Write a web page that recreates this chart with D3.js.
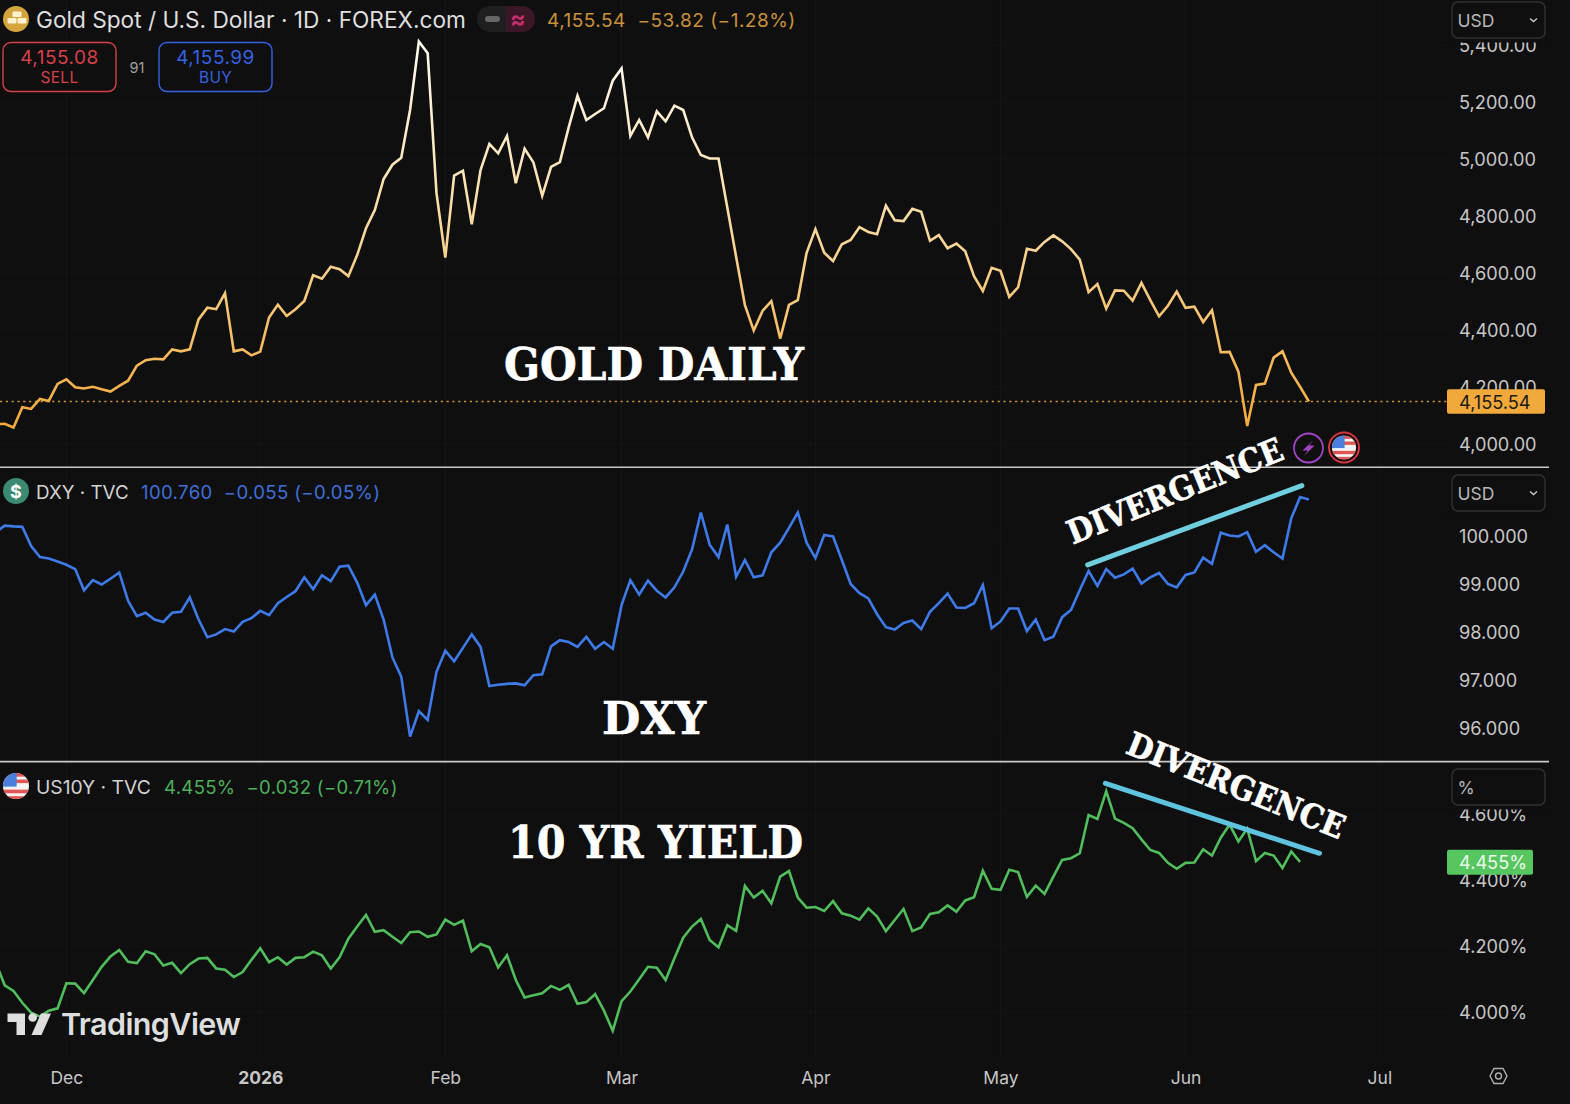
<!DOCTYPE html>
<html>
<head>
<meta charset="utf-8">
<title>Gold, DXY, US10Y</title>
<script src="https://cdn.jsdelivr.net/npm/d3@7"></script>
<style>
  html, body { margin: 0; padding: 0; background: #0f0f0f; }
  svg { display: block; font-family: Inter, "Noto Sans", sans-serif; }
  .big { font-family: "DejaVu Serif", serif; font-weight: 700; fill: #fff; stroke: #fff; stroke-width: 0.6px; }
  .axis path, .axis line { display: none; }
  .axis text { fill: #c6c6c6; font-family: Inter, sans-serif; font-size: 18.2px; }
  .axis.time text { font-size: 17.5px; }
</style>
</head>
<body>
<div id="chart"></div>
<script>
  // daily closes. first value sits one bar left of the frame
  var gold = [4069,
    4071, 4058, 4129, 4123, 4158, 4151, 4211, 4227, 4199, 4195,
    4201, 4192, 4184, 4204, 4222, 4275, 4294, 4299, 4297, 4332,
    4325, 4332, 4437, 4478, 4473, 4529, 4325, 4332, 4311, 4324,
    4444, 4489, 4449, 4473, 4502, 4592, 4580, 4622, 4613, 4589,
    4663, 4757, 4821, 4930, 4980, 5004, 5172, 5412, 5371, 4880,
    4654, 4942, 4959, 4771, 4961, 5053, 5020, 5081, 4915, 5036,
    4988, 4871, 4972, 4989, 5111, 5222, 5137, 5158, 5178, 5275,
    5318, 5081, 5137, 5076, 5167, 5132, 5187, 5172, 5076, 5014,
    5002, 5002, 4830, 4657, 4487, 4398, 4467, 4501, 4370, 4488,
    4505, 4671, 4754, 4671, 4642, 4701, 4716, 4761, 4744, 4736,
    4836, 4785, 4782, 4825, 4815, 4713, 4733, 4687, 4703, 4676,
    4589, 4537, 4618, 4608, 4516, 4550, 4685, 4678, 4709, 4732,
    4711, 4684, 4647, 4533, 4561, 4475, 4539, 4538, 4503, 4565,
    4505, 4448, 4485, 4535, 4478, 4482, 4428, 4469, 4322, 4323,
    4254, 4063, 4207, 4212, 4303, 4325, 4250, 4201, 4149];

  var dxy = [100.08,
    100.215, 100.20, 100.19, 99.79, 99.56, 99.53, 99.47, 99.40, 99.31, 98.87,
    99.08, 98.99, 99.11, 99.24, 98.65, 98.33, 98.40, 98.26, 98.21, 98.40,
    98.42, 98.72, 98.26, 97.89, 97.95, 98.06, 98.01, 98.21, 98.29, 98.44,
    98.35, 98.60, 98.73, 98.85, 99.14, 98.89, 99.18, 99.06, 99.36, 99.38,
    99.03, 98.56, 98.78, 98.26, 97.47, 97.07, 95.82, 96.35, 96.17, 97.17,
    97.61, 97.39, 97.67, 97.95, 97.69, 96.875, 96.90, 96.92, 96.93, 96.89,
    97.10, 97.12, 97.70, 97.83, 97.79, 97.69, 97.90, 97.65, 97.79, 97.65,
    98.56, 99.08, 98.78, 99.07, 98.86, 98.72, 98.93, 99.26, 99.72, 100.49,
    99.82, 99.56, 100.24, 99.15, 99.50, 99.14, 99.18, 99.66, 99.86, 100.17,
    100.49, 99.86, 99.54, 100.02, 99.99, 99.50, 99.00, 98.81, 98.70, 98.37,
    98.10, 98.05, 98.19, 98.24, 98.06, 98.42, 98.60, 98.80, 98.51, 98.50,
    98.60, 98.98, 98.08, 98.22, 98.49, 98.49, 98.02, 98.26, 97.83, 97.90,
    98.31, 98.46, 98.875, 99.27, 98.96, 99.31, 99.13, 99.20, 99.32, 99.01,
    99.14, 99.23, 99.00, 98.93, 99.19, 99.24, 99.55, 99.42, 100.07, 100.01,
    99.99, 100.08, 99.67, 99.81, 99.66, 99.53, 100.37, 100.81, 100.76];

  var us10y = [4.149,
    4.081, 4.064, 4.028, 3.998, 3.986, 4.004, 4.011, 4.087, 4.086, 4.057,
    4.097, 4.137, 4.168, 4.188, 4.152, 4.148, 4.184, 4.175, 4.141, 4.149,
    4.118, 4.145, 4.162, 4.164, 4.132, 4.128, 4.106, 4.121, 4.158, 4.193,
    4.151, 4.166, 4.144, 4.164, 4.166, 4.183, 4.172, 4.132, 4.166, 4.222,
    4.259, 4.294, 4.243, 4.248, 4.228, 4.209, 4.242, 4.244, 4.228, 4.235,
    4.280, 4.264, 4.277, 4.184, 4.206, 4.196, 4.135, 4.172, 4.097, 4.044,
    4.051, 4.057, 4.079, 4.067, 4.082, 4.025, 4.030, 4.054, 4.004, 3.943,
    4.033, 4.062, 4.099, 4.137, 4.134, 4.097, 4.163, 4.225, 4.259, 4.282,
    4.218, 4.196, 4.263, 4.246, 4.382, 4.347, 4.367, 4.329, 4.410, 4.427,
    4.347, 4.316, 4.318, 4.306, 4.336, 4.299, 4.292, 4.280, 4.314, 4.289,
    4.245, 4.279, 4.312, 4.245, 4.256, 4.297, 4.302, 4.323, 4.304, 4.338,
    4.348, 4.428, 4.373, 4.370, 4.431, 4.424, 4.349, 4.383, 4.358, 4.410,
    4.461, 4.466, 4.481, 4.597, 4.585, 4.669, 4.586, 4.573, 4.557, 4.523,
    4.491, 4.482, 4.452, 4.434, 4.452, 4.453, 4.493, 4.474, 4.528, 4.568,
    4.517, 4.556, 4.457, 4.482, 4.474, 4.436, 4.486, 4.455];

  // bar index of each month start
  var monthBars = [7, 29, 50, 70, 92, 113, 134, 156];
  var monthLabels = ["Dec", "2026", "Feb", "Mar", "Apr", "May", "Jun", "Jul"];

  var goldTicks = [4000, 4200, 4400, 4600, 4800, 5000, 5200, 5400];
  var dxyTicks = [96, 97, 98, 99, 100];
  var yieldTicks = [4.0, 4.2, 4.4, 4.6];

  // divergence trend lines: [bar, value] at both ends
  var dxyTrend = [[122.9, 99.40], [147.2, 101.05]];
  var yieldTrend = [[124.9, 4.693], [149.2, 4.481]];

  var width = 1570, height = 1104;

  var svg = d3.select("#chart").append("svg")
    .attr("width", width)
    .attr("height", height)
    .style("background", "#0f0f0f");

  var x = d3.scaleLinear().domain([0, 148]).range([4.7, 1308.9]);
  var yGold = d3.scaleLinear().domain([4000, 5200]).range([444, 102]);
  var yDxy = d3.scaleLinear().domain([96, 100]).range([728, 536]);
  var yYield = d3.scaleLinear().domain([4.0, 4.6]).range([1012, 814]);

  var defs = svg.append("defs");

  var grad = defs.append("linearGradient")
    .attr("id", "goldLine")
    .attr("gradientUnits", "userSpaceOnUse")
    .attr("x1", 0).attr("x2", 0)
    .attr("y1", yGold(5412)).attr("y2", yGold(4063));
  grad.append("stop").attr("offset", "0%").attr("stop-color", "#fffaf0");
  grad.append("stop").attr("offset", "40%").attr("stop-color", "#fae0ae");
  grad.append("stop").attr("offset", "100%").attr("stop-color", "#f3a93a");

  // faint grid
  var grid = svg.append("g").attr("stroke", "#1a1516").attr("stroke-width", 1);
  grid.selectAll(".v").data(monthBars).enter().append("line")
    .attr("x1", function(d) { return x(d); })
    .attr("x2", function(d) { return x(d); })
    .attr("y1", 0).attr("y2", 1056);
  [[goldTicks, yGold], [dxyTicks, yDxy], [yieldTicks, yYield]].forEach(function(p) {
    grid.append("g").selectAll("line").data(p[0]).enter().append("line")
      .attr("stroke", "#141414")
      .attr("x1", 0).attr("x2", 1449)
      .attr("y1", function(d) { return p[1](d); })
      .attr("y2", function(d) { return p[1](d); });
  });

  function drawLine(values, y, stroke) {
    var line = d3.line()
      .x(function(d, i) { return x(i - 1); })
      .y(function(d) { return y(d); });
    svg.append("path")
      .attr("d", line(values))
      .attr("fill", "none")
      .attr("stroke", stroke)
      .attr("stroke-width", 2.6)
      .attr("stroke-linejoin", "miter");
  }

  var goldLast = yGold(gold[gold.length - 1]);

  // last price dotted line goes under the gold line
  svg.append("line")
    .attr("x1", 0).attr("x2", 1447)
    .attr("y1", goldLast).attr("y2", goldLast)
    .attr("stroke", "#c8923a")
    .attr("stroke-width", 1.6)
    .attr("stroke-dasharray", "2.2 3.6");

  drawLine(gold, yGold, "url(#goldLine)");
  drawLine(dxy, yDxy, "#3f7be8");
  drawLine(us10y, yYield, "#52bd5c");

  // axes
  function rightAxis(y, ticks, fmt) {
    var g = svg.append("g")
      .attr("class", "axis")
      .attr("transform", "translate(1459,1)")
      .call(d3.axisRight(y).tickValues(ticks).tickSize(0).tickPadding(0).tickFormat(fmt));
    return g;
  }
  rightAxis(yGold, goldTicks, d3.format(",.2f"));
  rightAxis(yDxy, dxyTicks, d3.format(".3f"));
  rightAxis(yYield, yieldTicks, function(d) { return d3.format(".3f")(d) + "%"; });

  var xAxis = svg.append("g")
    .attr("class", "axis time")
    .attr("transform", "translate(0,1072)")
    .call(d3.axisBottom(x).tickValues(monthBars).tickSize(0).tickPadding(0)
      .tickFormat(function(d, i) { return monthLabels[i]; }));
  xAxis.selectAll("text")
    .style("font-weight", function(d, i) { return monthLabels[i] == "2026" ? 700 : 400; });

  // panel separators
  [467.3, 761.6].forEach(function(y) {
    svg.append("line")
      .attr("x1", 0).attr("x2", 1549)
      .attr("y1", y).attr("y2", y)
      .attr("stroke", "#c9c9c9")
      .attr("stroke-width", 1.6);
  });

  // divergence lines
  svg.append("line")
    .attr("x1", x(dxyTrend[0][0])).attr("y1", yDxy(dxyTrend[0][1]))
    .attr("x2", x(dxyTrend[1][0])).attr("y2", yDxy(dxyTrend[1][1]))
    .attr("stroke", "#6fcfdf").attr("stroke-width", 5).attr("stroke-linecap", "round");
  svg.append("line")
    .attr("x1", x(yieldTrend[0][0])).attr("y1", yYield(yieldTrend[0][1]))
    .attr("x2", x(yieldTrend[1][0])).attr("y2", yYield(yieldTrend[1][1]))
    .attr("stroke", "#5fc3e0").attr("stroke-width", 5).attr("stroke-linecap", "round");

  function bigText(txt, cx, cy, size, rotate, len) {
    svg.append("text")
      .attr("class", "big")
      .attr("text-anchor", "middle")
      .attr("dominant-baseline", "central")
      .attr("transform", "translate(" + cx + "," + cy + ") rotate(" + rotate + ")")
      .attr("textLength", len)
      .attr("lengthAdjust", "spacingAndGlyphs")
      .style("font-size", size + "px")
      .text(txt);
  }
  bigText("GOLD DAILY", 654, 364.5, 45, 0, 300);
  bigText("DXY", 654, 718.5, 45, 0, 104);
  bigText("10 YR YIELD", 655.5, 842.5, 45, 0, 295);
  bigText("DIVERGENCE", 1175, 491, 33, -22, 230);
  bigText("DIVERGENCE", 1236, 785.5, 33, 22, 232);

  // price tags and axis boxes sit over the tick labels
  function tag(x0, yc, w, h, fill, txt, color) {
    svg.append("rect").attr("x", x0).attr("y", yc - h / 2).attr("width", w).attr("height", h)
      .attr("rx", 2).attr("fill", fill);
    svg.append("text").attr("x", 1459).attr("y", yc)
      .attr("dominant-baseline", "central")
      .style("font-size", "18.2px")
      .attr("fill", color)
      .text(txt);
  }
  tag(1447, goldLast, 98, 24.5, "#f2a93b", "4,155.54", "#1c1a16");
  tag(1447, yYield(us10y[us10y.length - 1]) + 0.5, 86, 25, "#57c560", "4.455%", "#eafaea");

  function unitBox(y0, txt, chevron) {
    // the box blanks a few pixels below itself too
    svg.append("rect").attr("x", 1447).attr("y", y0 - 2).attr("width", 103).attr("height", 42.5)
      .attr("fill", "#0f0f0f");
    svg.append("rect").attr("x", 1452).attr("y", y0).attr("width", 93).attr("height", 36)
      .attr("rx", 6).attr("fill", "#0f0f0f").attr("stroke", "#303030").attr("stroke-width", 1.5);
    svg.append("text").attr("x", 1457.5).attr("y", y0 + 18)
      .attr("dominant-baseline", "central")
      .style("font-size", "17.5px").attr("fill", "#b8b8b8").text(txt);
    if (chevron) {
      svg.append("path")
        .attr("d", d3.line()([[1530, y0 + 16.5], [1533.5, y0 + 19.5], [1537, y0 + 16.5]]))
        .attr("fill", "none").attr("stroke", "#c8c8c8").attr("stroke-width", 1.4);
    }
  }
  unitBox(2, "USD", true);
  unitBox(475, "USD", true);
  unitBox(769, "%", false);

  // header rows
  function headText(x0, y0, size, color, txt, spacing) {
    return svg.append("text").attr("x", x0).attr("y", y0)
      .attr("dominant-baseline", "central")
      .style("font-size", size + "px")
      .style("letter-spacing", (spacing || 0) + "px")
      .attr("fill", color)
      .text(txt);
  }

  // gold icon
  svg.append("circle").attr("cx", 16).attr("cy", 19).attr("r", 13).attr("fill", "#d3a53c");
  [[12.5, 11.5], [7.5, 18], [17.5, 18]].forEach(function(b) {
    svg.append("rect").attr("x", b[0]).attr("y", b[1]).attr("width", 9).attr("height", 5.5)
      .attr("rx", 1).attr("fill", "#fff2cf");
  });

  headText(36, 19.5, 22.65, "#dedede", "Gold Spot / U.S. Dollar \u00b7 1D \u00b7 FOREX.com");
  svg.append("rect").attr("x", 477).attr("y", 6).attr("width", 58).attr("height", 26)
    .attr("rx", 13).attr("fill", "#1f1f1f");
  svg.append("path").attr("d", "M506 6H522a13 13 0 0 1 0 26H506Z").attr("fill", "#3a1626");
  svg.append("rect").attr("x", 485).attr("y", 16).attr("width", 15).attr("height", 6)
    .attr("rx", 3).attr("fill", "#666");
  headText(510, 19, 23, "#c2306c", "\u2248").style("font-weight", 700);
  headText(547, 20, 19, "#c8923a", "4,155.54\u00a0 \u221253.82 (\u22121.28%)", 0.5);

  function quoteBox(x0, stroke, price, side) {
    svg.append("rect").attr("x", x0).attr("y", 42.5).attr("width", 113).attr("height", 49)
      .attr("rx", 8).attr("fill", "#0f0f0f").attr("stroke", stroke).attr("stroke-width", 1.4);
    headText(x0 + 56.5, 57.5, 19, stroke, price, 0.5).attr("text-anchor", "middle");
    headText(x0 + 56.5, 77.5, 15.5, stroke, side, 0.3).attr("text-anchor", "middle");
  }
  quoteBox(3, "#d5404a", "4,155.08", "SELL");
  quoteBox(159, "#3562e0", "4,155.99", "BUY");
  headText(137, 67, 14.5, "#a0a0a0", "91").attr("text-anchor", "middle");

  // dollar icon
  svg.append("circle").attr("cx", 16).attr("cy", 491).attr("r", 13).attr("fill", "#3d8a72");
  headText(16, 491, 18, "#fff", "$").attr("text-anchor", "middle").style("font-weight", 700);
  headText(36, 492, 18.8, "#d2d2d2", "DXY \u00b7 TVC");
  headText(141, 492, 18.6, "#3f6fd9", "100.760\u00a0 \u22120.055 (\u22120.05%)", 0.35);

  function flag(cx, cy, r, id) {
    defs.append("clipPath").attr("id", id).append("circle")
      .attr("cx", cx).attr("cy", cy).attr("r", r);
    var f = svg.append("g").attr("clip-path", "url(#" + id + ")");
    f.append("rect").attr("x", cx - r).attr("y", cy - r).attr("width", 2 * r).attr("height", 2 * r)
      .attr("fill", "#f4f4f4");
    d3.range(4).forEach(function(i) {
      f.append("rect").attr("x", cx - r).attr("y", cy - r + r * 0.5 * i + (i > 1 ? r * 0.28 : 0))
        .attr("width", 2 * r).attr("height", r * 0.28).attr("fill", "#e25555");
    });
    f.append("rect").attr("x", cx - r).attr("y", cy - r).attr("width", r * 1.05).attr("height", r * 1.05)
      .attr("fill", "#4a7fdc");
    return f;
  }
  flag(16, 786, 13, "flagA");
  headText(36, 787, 19.3, "#d2d2d2", "US10Y \u00b7 TVC");
  headText(164, 787, 18.6, "#4caf5a", "4.455%\u00a0 \u22120.032 (\u22120.71%)", 0.3);

  // event icons on the gold panel
  svg.append("circle").attr("cx", 1308.5).attr("cy", 448).attr("r", 14.5)
    .attr("fill", "#0f0f0f").attr("stroke", "#a044c4").attr("stroke-width", 1.8);
  svg.append("path").attr("d", "M1313.5 440L1302.5 450.5H1308L1304 456L1314.5 445.5H1309Z").attr("fill", "#a044c4");
  flag(1344, 447.5, 12, "flagB");
  svg.append("circle").attr("cx", 1344).attr("cy", 447.5).attr("r", 15)
    .attr("fill", "none").attr("stroke", "#d8343e").attr("stroke-width", 2);

  // tradingview mark
  var tv = svg.append("g").attr("fill", "#dedede");
  tv.append("path").attr("d", "M7.5 1013.5H25V1035H16.5V1022H7.5Z");
  tv.append("circle").attr("cx", 32.7).attr("cy", 1017.5).attr("r", 4.3);
  tv.append("path").attr("d", "M41 1013.5H51L41.5 1035H31.5Z");
  tv.append("text").attr("x", 61).attr("y", 1035)
    .style("font-size", "30.5px").style("font-weight", 600).style("letter-spacing", "-0.6px")
    .text("TradingView");

  // settings icon, bottom right
  svg.append("path")
    .attr("d", "M1490 1076L1494 1068.5H1503L1507 1076L1503 1083.5H1494Z")
    .attr("fill", "none").attr("stroke", "#b0b0b0").attr("stroke-width", 1.4);
  svg.append("circle").attr("cx", 1498.5).attr("cy", 1076).attr("r", 3)
    .attr("fill", "none").attr("stroke", "#b0b0b0").attr("stroke-width", 1.4);
</script>
</body>
</html>
